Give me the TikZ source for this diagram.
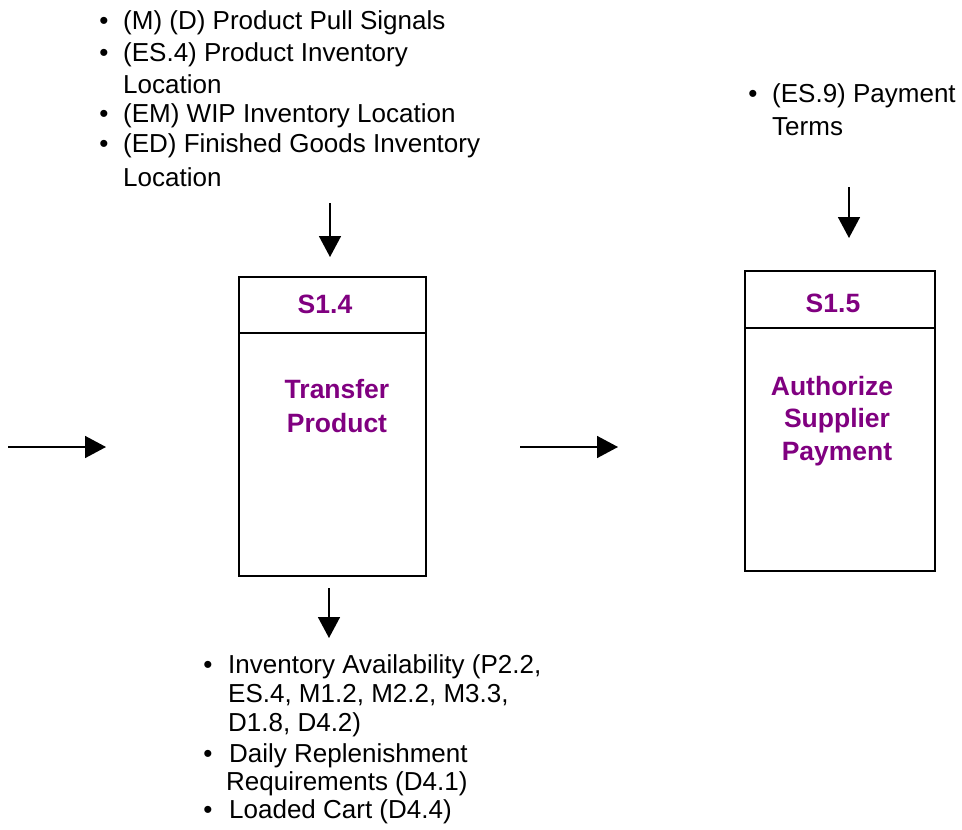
\documentclass[tikz,border=0pt]{standalone}
\usepackage{fontspec}
\setmainfont{Liberation Sans}
\usetikzlibrary{arrows.meta}
\definecolor{procpurple}{HTML}{800080}
\tikzset{
  listtxt/.style={anchor=base west, inner sep=0pt, font=\fontsize{26}{30}\selectfont},
  bul/.style={anchor=base, inner sep=0pt, font=\fontsize{26}{30}\selectfont},
  proctxt/.style={anchor=base, inner sep=0pt, text=procpurple, font=\fontsize{26.5}{30}\selectfont\bfseries},
  procbox/.style={draw, line width=2pt, anchor=north west, inner sep=0pt},
  flow/.style={line width=1.6pt, -{Triangle[length=21pt, width=22pt]}}
}
\begin{document}
\begin{tikzpicture}[x=1pt, y=-1pt]
\useasboundingbox (0,0) rectangle (962,830);

% process boxes
\node[procbox, minimum width=187pt, minimum height=299pt] (b14) at (238,276) {};
\coordinate (d14w) at (238,333);
\coordinate (d14e) at (425,333);
\draw[line width=2pt] (d14w) -- (d14e);

\node[procbox, minimum width=190pt, minimum height=300pt] (b15) at (744,270) {};
\coordinate (d15w) at (744,328);
\coordinate (d15e) at (934,328);
\draw[line width=2pt] (d15w) -- (d15e);

% box labels
\node[proctxt] (id14) at (325,313) {S1.4};
\node[proctxt] (t14a) at (337,398) {Transfer};
\node[proctxt] (t14b) at (337,432) {Product};

\node[proctxt] (id15) at (833,312) {S1.5};
\node[proctxt] (t15a) at (832,395) {Authorize};
\node[proctxt] (t15b) at (837,427) {Supplier};
\node[proctxt] (t15c) at (837,460) {Payment};

% inputs to S1.4
\node[bul] (ib1) at (104,29) {•};
\node[listtxt] (i1) at (123,29) {(M) (D) Product Pull Signals};
\node[bul] (ib2) at (104,61) {•};
\node[listtxt] (i2) at (123,61) {(ES.4) Product Inventory};
\node[listtxt] (i2b) at (123,93) {Location};
\node[bul] (ib3) at (104,122) {•};
\node[listtxt] (i3) at (123,122) {(EM) WIP Inventory Location};
\node[bul] (ib4) at (104,152) {•};
\node[listtxt] (i4) at (123,152) {(ED) Finished Goods Inventory};
\node[listtxt] (i4b) at (123,186) {Location};

% input to S1.5
\node[bul] (jb1) at (753,102) {•};
\node[listtxt] (j1) at (772,102) {(ES.9) Payment};
\node[listtxt] (j1b) at (772,135) {Terms};

% outputs of S1.4
\node[bul] (ob1) at (208,673) {•};
\node[listtxt] (o1) at (228,673) {Inventory Availability (P2.2,};
\node[listtxt] (o1b) at (228,702) {ES.4, M1.2, M2.2, M3.3,};
\node[listtxt] (o1c) at (228,731) {D1.8, D4.2)};
\node[bul] (ob2) at (208,762) {•};
\node[listtxt] (o2) at (229,762) {Daily Replenishment};
\node[listtxt] (o2b) at (226,790) {Requirements (D4.1)};
\node[bul] (ob3) at (208,818) {•};
\node[listtxt] (o3) at (229,818) {Loaded Cart (D4.4)};

% flow arrows
\coordinate (a1s) at (330,203); \coordinate (a1e) at (330,257);
\coordinate (a2s) at (849,187); \coordinate (a2e) at (849,238);
\coordinate (a3s) at (329,588); \coordinate (a3e) at (329,638);
\coordinate (a4s) at (8,447);   \coordinate (a4e) at (106,447);
\coordinate (a5s) at (520,447); \coordinate (a5e) at (618,447);
\draw[flow] (a1s) -- (a1e);
\draw[flow] (a2s) -- (a2e);
\draw[flow] (a3s) -- (a3e);
\draw[flow] (a4s) -- (a4e);
\draw[flow] (a5s) -- (a5e);
\end{tikzpicture}
\end{document}
